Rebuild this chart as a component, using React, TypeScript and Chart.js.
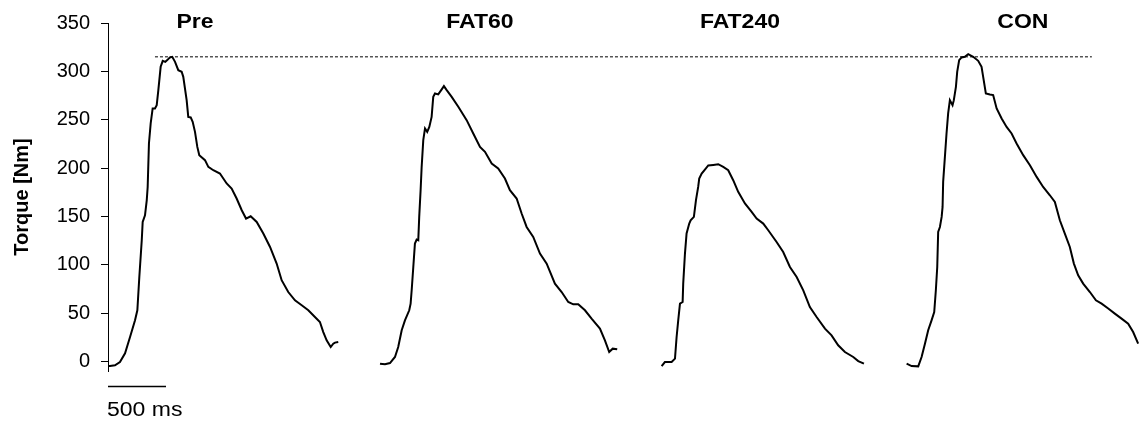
import React, { useEffect, useRef } from "react";
import { Chart, registerables } from "chart.js";

Chart.register(...registerables);

// ---- Data (time in ms, torque in Nm) ----
const preTime = [0, 17, 60, 103, 147, 190, 233, 253, 270, 291, 299, 319, 334, 342, 353, 368, 385, 405, 420, 434, 454, 472, 494, 511, 534, 554, 578, 606, 635, 649, 678, 692, 713, 730, 750, 770, 787, 836, 865, 908, 965, 1023, 1066, 1109, 1153, 1190, 1230, 1282, 1339, 1397, 1454, 1497, 1554, 1612, 1670, 1727, 1784, 1827, 1856, 1885, 1920, 1942, 1957, 1985];
const preTorque = [-4.9, -4.9, -4.1, -0.7, 8.3, 25.2, 42.4, 52.8, 87.3, 125.3, 144.2, 151.1, 166.6, 180.4, 225.4, 246.1, 261.6, 261.6, 265, 280.5, 304.7, 310.9, 309.8, 311.6, 314.4, 315, 309.8, 301.2, 299.5, 294.3, 270.2, 252.9, 252.3, 247.7, 237.4, 221.8, 213.3, 208.1, 201.1, 197.7, 194.3, 184, 178.8, 168.4, 156.3, 147.7, 150.1, 144.2, 132.2, 118.3, 101.2, 83.9, 71.7, 63.1, 58, 52.8, 45.9, 40.7, 30.3, 21.7, 14.8, 18.3, 19.4, 20];

const fat60Time = [2345, 2388, 2431, 2474, 2502, 2532, 2560, 2597, 2609, 2618, 2632, 2646, 2661, 2675, 2683, 2695, 2704, 2718, 2733, 2752, 2770, 2790, 2804, 2819, 2847, 2877, 2896, 2920, 2963, 3020, 3092, 3149, 3207, 3250, 3308, 3364, 3422, 3465, 3523, 3566, 3609, 3666, 3724, 3782, 3853, 3911, 3968, 4011, 4054, 4112, 4169, 4241, 4284, 4321, 4351, 4390];
const fat60Torque = [-2.4, -3.1, -1.8, 4.5, 14.8, 32.1, 42.4, 52.8, 59.7, 73.5, 97.6, 121.8, 126, 125.3, 149.4, 177, 201.1, 228.8, 240.9, 237.4, 242.5, 252.9, 273.6, 277.1, 276.1, 281.3, 284.7, 280.5, 273.6, 263.3, 249.5, 235.7, 221.8, 216.7, 204.7, 199.5, 189.1, 177, 168.4, 152.9, 139, 128.7, 111.5, 101.1, 80.4, 71.7, 61.4, 59, 59, 52.8, 44.2, 33.9, 21.7, 9.6, 13.1, 12.4];

const fat240Time = [4773, 4801, 4859, 4888, 4902, 4916, 4931, 4954, 4959, 4974, 4988, 5011, 5023, 5051, 5069, 5088, 5097, 5118, 5146, 5175, 5218, 5261, 5304, 5347, 5390, 5433, 5491, 5549, 5592, 5649, 5692, 5764, 5821, 5879, 5937, 5994, 6051, 6109, 6181, 6238, 6295, 6353, 6425, 6468, 6517];
const fat240Torque = [-4.9, -0.7, -0.7, 2.8, 25.2, 42.4, 59.7, 61.4, 80.4, 111.5, 132.2, 142.5, 145.9, 149.4, 166.7, 180.4, 189.1, 194.3, 198.4, 202.6, 203.2, 203.9, 201.1, 197.7, 187.4, 175.3, 163.3, 154.6, 147.7, 142.5, 135.6, 123.5, 113.1, 97.6, 87.3, 73.5, 56.2, 45.9, 33.8, 26.9, 16.6, 9.6, 4.5, 0.3, -2.4];

const conTime = [6885, 6928, 6985, 7014, 7043, 7071, 7100, 7123, 7137, 7149, 7157, 7172, 7187, 7195, 7200, 7215, 7229, 7243, 7258, 7281, 7292, 7310, 7321, 7338, 7359, 7387, 7416, 7459, 7502, 7531, 7545, 7568, 7603, 7631, 7661, 7704, 7747, 7790, 7833, 7890, 7948, 8006, 8062, 8120, 8163, 8206, 8249, 8292, 8327, 8364, 8407, 8465, 8517, 8566, 8623, 8680, 8738, 8795, 8838, 8881];
const conTorque = [-2.4, -4.9, -5.2, 4.5, 18.3, 32.1, 42.4, 51, 73.5, 97.6, 133.9, 139, 149.4, 159.7, 185.6, 211.5, 235.7, 256.4, 270.2, 265, 270.2, 284, 299.5, 311.6, 314.4, 315, 317.8, 315, 310.9, 304.7, 294.3, 277.1, 276.1, 275.4, 261.6, 251.2, 242.5, 235.7, 225.4, 213.3, 202.9, 190.8, 180.4, 171.8, 164.9, 145.9, 132.2, 118.3, 101.1, 89, 80.4, 71.7, 63.1, 59.7, 54.6, 49.4, 44.2, 39, 30.3, 18.3];

const panelLabels = ["Pre", "FAT60", "FAT240", "CON"];
const panelLabelTimes = [750, 3207, 5448, 7887];

const refLineTimes = [405, 8482];
const refLineTorque = 315;

const yTicks = [0, 50, 100, 150, 200, 250, 300, 350];
const yAxisTitle = "Torque [Nm]";
const scaleBarMs = 500;
const scaleBarLabel = "500 ms";

const FONT = '"Liberation Sans", Arial, Helvetica, sans-serif';
const STRETCH = 1.15;

const toPoints = (t: number[], v: number[]) => t.map((x, i) => ({ x, y: v[i] }));

export default function App() {
  const canvasRef = useRef<HTMLCanvasElement | null>(null);

  useEffect(() => {
    if (!canvasRef.current) return;

    const drawStretched = (ctx: CanvasRenderingContext2D, text: string, x: number, y: number, align: "left" | "center") => {
      ctx.save();
      ctx.translate(x, y);
      ctx.scale(STRETCH, 1);
      ctx.textAlign = align;
      ctx.textBaseline = "alphabetic";
      ctx.fillText(text, 0, 0);
      ctx.restore();
    };

    const overlay = {
      id: "overlay",
      afterDraw(chart: any) {
        const { ctx, chartArea } = chart;
        const xs = chart.scales.x;
        ctx.save();
        ctx.fillStyle = "#000";
        ctx.font = `bold 20px ${FONT}`;
        panelLabels.forEach((lab, i) => {
          drawStretched(ctx, lab, xs.getPixelForValue(panelLabelTimes[i]), 28, "center");
        });
        // scale bar
        const x0 = xs.getPixelForValue(0);
        const x1 = xs.getPixelForValue(scaleBarMs);
        const yb = chartArea.bottom + 15.5;
        ctx.strokeStyle = "#000";
        ctx.lineWidth = 1.3;
        ctx.beginPath();
        ctx.moveTo(x0, yb);
        ctx.lineTo(x1, yb);
        ctx.stroke();
        ctx.font = `20px ${FONT}`;
        drawStretched(ctx, scaleBarLabel, x0 - 1, yb + 29, "left");
        ctx.restore();
      },
    };

    const curve = (t: number[], v: number[]) => ({
      data: toPoints(t, v),
      borderColor: "#000",
      borderWidth: 2,
      pointRadius: 0,
      tension: 0,
      fill: false,
    });

    const chart = new Chart(canvasRef.current, {
      type: "line",
      data: {
        datasets: [
          curve(preTime, preTorque),
          curve(fat60Time, fat60Torque),
          curve(fat240Time, fat240Torque),
          curve(conTime, conTorque),
          {
            data: toPoints(refLineTimes, [refLineTorque, refLineTorque]),
            borderColor: "#000",
            borderWidth: 1,
            borderDash: [3, 2],
            pointRadius: 0,
            fill: false,
          },
        ],
      },
      options: {
        animation: false,
        responsive: false,
        events: [],
        layout: { padding: { left: 0, right: 0, top: 23, bottom: 52 } },
        plugins: { legend: { display: false }, tooltip: { enabled: false } },
        scales: {
          x: { type: "linear", display: false, min: 0, max: 8897 },
          y: {
            type: "linear",
            min: -10,
            max: 350,
            afterBuildTicks: (scale: any) => {
              scale.ticks = yTicks.map((v) => ({ value: v }));
            },
            afterFit: (scale: any) => {
              scale.width = 108;
            },
            border: { display: true, color: "#000", width: 1 },
            grid: {
              display: true,
              drawOnChartArea: false,
              drawTicks: true,
              tickLength: 7,
              color: "#000",
            },
            ticks: {
              color: "#000",
              padding: 11,
              font: { family: FONT, size: 20 },
            },
            title: {
              display: true,
              text: yAxisTitle,
              color: "#000",
              padding: { top: 10, bottom: 0 },
              font: { family: FONT, size: 20, weight: "bold" },
            },
          },
        },
      },
      plugins: [overlay],
    } as any);

    return () => chart.destroy();
  }, []);

  return (
    <div style={{ position: "fixed", left: 0, top: 0, width: 1140, height: 423, background: "#fff" }}>
      <canvas ref={canvasRef} width={1140} height={423} style={{ display: "block" }} />
    </div>
  );
}
